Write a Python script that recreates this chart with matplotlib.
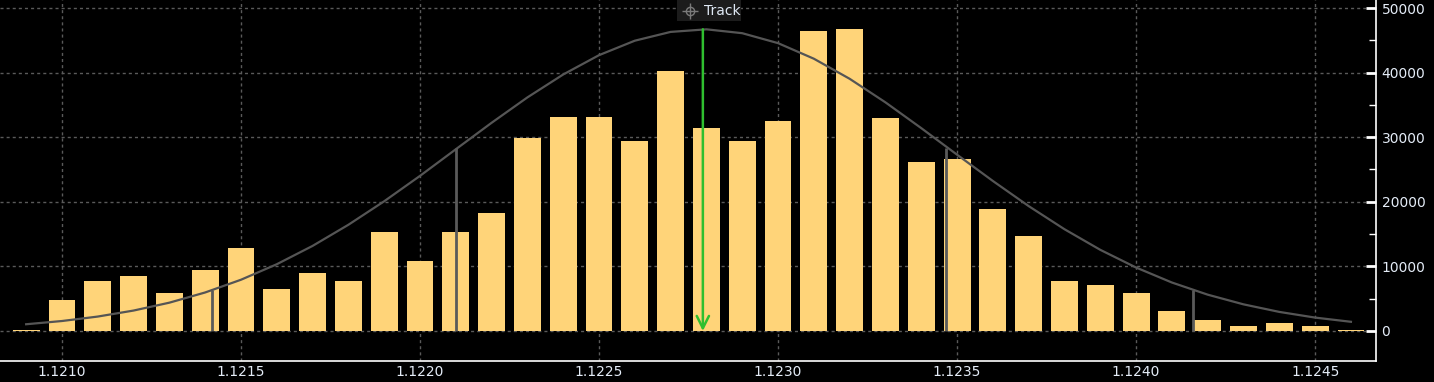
import numpy as np
import matplotlib.pyplot as plt
from matplotlib.patches import Rectangle
from matplotlib.ticker import MultipleLocator, FixedLocator

# Preis-Buckets (0.0001 Schritte)
prices = np.round(np.arange(38) * 0.0001 + 1.1209, 4)

volume = [150, 4800, 7700, 8500, 5900, 9400, 12800, 6500, 9000, 7700,
          15300, 10800, 15300, 18200, 29800, 33100, 33200, 29400, 40300, 31400,
          29400, 32500, 46400, 46700, 32900, 26100, 26700, 18900, 14700, 7800,
          7100, 5900, 3100, 1700, 800, 1300, 800, 200]

# Normalverteilungs-Kurve
curve = [1040, 1540, 2230, 3160, 4380, 5960, 7930, 10330, 13170, 16440,
         20080, 24010, 28130, 32230, 36160, 39710, 42700, 44940, 46300, 46700,
         46100, 44560, 42150, 39040, 35390, 31400, 27290, 23220, 19330, 15750,
         12560, 9820, 7500, 5620, 4120, 2950, 2070, 1420]

# Sigma-Linien
sigma_x = [1.12142, 1.12210, 1.12347, 1.12416]
sigma_y = [6300, 28300, 28300, 6300]
mean_x = 1.12279
mean_y = 46700

x_ticks = [1.1210, 1.1215, 1.1220, 1.1225, 1.1230, 1.1235, 1.1240, 1.1245]
y_ticks = [0, 10000, 20000, 30000, 40000, 50000]

W, H = 1434, 382
fig = plt.figure(figsize=(W / 100, H / 100), dpi=100, facecolor='black')
ax = fig.add_axes([0.0, 21 / H, 1376 / W, 1 - 21 / H])
ax.set_facecolor('black')

ax.bar(prices, volume, width=0.000075, color='#ffd479', zorder=2)
ax.plot(prices, curve, color='#555555', lw=1.6, zorder=3)
ax.vlines(sigma_x, 0, sigma_y, color='#5a5a5a', lw=2, zorder=3)

# gruene Linie mit Pfeil
ax.annotate('', xy=(mean_x, 0), xytext=(mean_x, mean_y),
            arrowprops=dict(arrowstyle='->', color='#2fbf2f', lw=1.8,
                            mutation_scale=22, shrinkA=0, shrinkB=0),
            zorder=4)

ax.set_xlim(1.120827, 1.124670)
ax.set_ylim(-4650, 51240)

ax.xaxis.set_major_locator(FixedLocator(x_ticks))
ax.set_xticklabels(['%.4f' % v for v in x_ticks])
ax.yaxis.set_major_locator(FixedLocator(y_ticks))
ax.yaxis.set_minor_locator(MultipleLocator(5000))
ax.yaxis.tick_right()

ax.grid(True, which='major', color='#5a5a5a', ls=(0, (2.2, 2.2)), lw=1.0, zorder=1)

for s in ['top', 'left']:
    ax.spines[s].set_visible(False)
for s in ['right', 'bottom']:
    ax.spines[s].set_color('white')
    ax.spines[s].set_linewidth(1.2)

ax.tick_params(axis='y', which='major', colors='white', labelcolor='#e4ecf7',
               labelsize=10, length=7, width=2, direction='in', pad=4)
ax.tick_params(axis='y', which='minor', colors='white', length=5, width=1,
               direction='in')
ax.tick_params(axis='x', colors='white', labelcolor='#e4ecf7', labelsize=10,
               length=0, pad=3)

# Track-Label (Box + Fadenkreuz-Symbol + Text), in Pixel-Koordinaten der Figur
fig.patches.append(Rectangle((677 / W, 1 - 21 / H), 64 / W, 21 / H,
                             transform=fig.transFigure, fc='#1c1c1c',
                             ec='none', zorder=5))
cx, cy = 690 / W, 1 - 11 / H
fig.lines.append(plt.Line2D([cx], [cy], transform=fig.transFigure, marker='o',
                            ms=6, mfc='none', mec='#7a7a7a', mew=1, zorder=6))
fig.lines.append(plt.Line2D([cx], [cy], transform=fig.transFigure, marker='+',
                            ms=11, mec='#7a7a7a', mew=1, zorder=6))
fig.text(704 / W, 1 - 11 / H, 'Track', ha='left', va='center', fontsize=10,
         color='#dfe8f4', zorder=7)

fig.savefig('out.png', dpi=100, facecolor='black')
